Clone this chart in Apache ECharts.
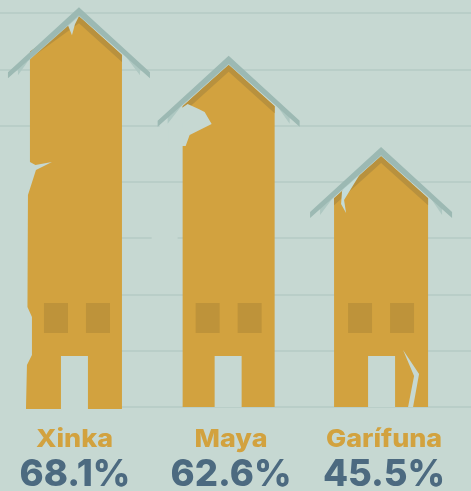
<!DOCTYPE html>
<html><head><meta charset="utf-8">
<style>html,body{margin:0;padding:0;background:#c6d8d2}#c{width:471px;height:491px}</style>
<script src="https://cdn.jsdelivr.net/npm/echarts@6/dist/echarts.min.js"></script>
</head><body><div id="c"></div>
<script>
const categories = ['Xinka', 'Maya', 'Garífuna'];
const percentLabels = ['68.1%', '62.6%', '45.5%'];
const houseHeights = [71.0, 62.4, 46.2];
const housePositions = [0.018, 1.0, 2.0];
const yTicks = [0, 10, 20, 30, 40, 50, 60, 70];

const BG = '#c6d8d2', YEL = '#d2a23f', WIN = '#be933a', BAND = '#b8913e', TXT = '#4c6a80';

// Shape details for each house, in pixels relative to the house's roof peak (p) or foot (f)
const details = [
  { l: -49, r: 43, drop: 2, spread: -53, lSlope: 0.72, door: [-18, 9], win: -2, labelDx: -4.5, valueDx: -4,
    cuts: [
      { f: [[-60,-250],[-49,-245],[-43.5,-242],[-27,-245],[-43,-237],[-51,-212],[-51.5,-100],[-47,-90],[-47,-52],[-52,-42],[-53,2],[-80,2],[-80,-250]] },
      { p: [[-11,18],[-7,28],[-4,17],[0,9],[-6,11]] }
    ] },
  { l: -46, r: 46, drop: 0, spread: -46, lSlope: 0.9, door: [-14, 13], win: 0, labelDx: 2.4, valueDx: 2.4,
    cuts: [
      { f: [[-46,-261],[-43,-261],[-39,-272],[-17,-283],[-24,-295],[-30,-298],[-41,-303],[-60,-290],[-60,-261]] },
      { f: [[-77,-172],[-51,-172],[-51,-166],[-77,-166]] },
      { f: [[-69,-284],[-46,-284],[-46,-279],[-69,-279]] }
    ] },
  { l: -47, r: 47, drop: 0, spread: -47, lSlope: 0.9, door: [-13, 14], win: 0, labelDx: 3, valueDx: 3,
    cuts: [
      { p: [[-39,44],[-40,57],[-35,66],[-37,53],[-21,27],[-27,24]], light: true },
      { f: [[22,-57],[38,-33],[32,0],[27,0],[33,-31]] }
    ] }
];

function renderHouse(params, api) {
  const i = params.dataIndex;
  const d = details[i];
  const peak = api.coord([api.value(0), api.value(1)]);
  const foot = api.coord([api.value(0), 0]);
  const cx = peak[0], py = peak[1], fy = foot[1];
  const P = (x, y) => [cx + x, py + y];
  const F = (x, y) => [cx + x, fy + y];
  const poly = (points, fill) => ({ type: 'polygon', shape: { points }, style: { fill } });
  const slope = 0.9;
  const edge = x => 9 + Math.abs(x) * (x < 0 ? d.lSlope : slope);
  const kids = [];

  // body
  kids.push(poly([F(d.spread, d.drop), F(d.spread, -245), F(d.l, -245), P(d.l, edge(d.l)), P(0, 9), P(d.r, edge(d.r)), F(d.r, d.drop)], YEL));
  // windows
  [[-33, -9], [9, 33]].forEach(w => kids.push(poly([
    F(w[0] + d.win, -104), F(w[1] + d.win, -104), F(w[1] + d.win, -74), F(w[0] + d.win, -74)], WIN)));
  // door
  kids.push(poly([F(d.door[0], -51), F(d.door[1], -51), F(d.door[1], d.drop), F(d.door[0], d.drop)], BG));
  // dark eave band, on the body only
  kids.push(poly([P(d.l, edge(d.l)), P(0, 9), P(d.r, edge(d.r)), P(d.r, edge(d.r) + 7), P(0, 16), P(d.l, edge(d.l) + 7)], BAND));
  // weathering cuts
  d.cuts.forEach(c => {
    const pts = c.f ? c.f.map(q => F(q[0], q[1])) : c.p.map(q => P(q[0], q[1]));
    kids.push(poly(pts, c.light ? '#c4dcd8' : BG));
  });
  // inner roof chevron
  kids.push(poly([P(-61, 60), P(0, 6), P(61, 60), P(61, 68), P(d.r + 2, edge(d.r) - 1), P(0, 9), P(d.l - 2, 9 + (2 - d.l) * slope - 1), P(-61, 68)], '#aec8c2'));
  // outer roof chevron
  kids.push(poly([P(-71, 65), P(0, 0), P(71, 65), P(71, 71), P(0, 8), P(-71, 71)], '#9cb9b3'));
  // labels
  kids.push({ type: 'text', x: cx + d.labelDx, y: fy + 32.5, scaleX: 1.1, scaleY: 1, style: { x: 0, y: 0, text: categories[i], fill: YEL,
    font: '800 24.5px Inter', textAlign: 'center', textVerticalAlign: 'middle' } });
  kids.push({ type: 'text', x: cx + d.valueDx, y: fy + 68.5, style: { x: 0, y: 0, text: percentLabels[i], fill: TXT,
    font: '800 36.5px Inter', textAlign: 'center', textVerticalAlign: 'middle' } });
  return { type: 'group', children: kids };
}

const chart = echarts.init(document.getElementById('c'), null, { renderer: 'canvas' });
chart.setOption({
  animation: false,
  backgroundColor: BG,
  grid: { left: 0, top: 13, width: 471, height: 394 },
  xAxis: { type: 'value', min: -0.5, max: 2.59, show: false },
  yAxis: { type: 'value', min: yTicks[0], max: yTicks[yTicks.length - 1], interval: 10,
    axisLabel: { show: false }, axisLine: { show: false }, axisTick: { show: false },
    splitLine: { show: true, lineStyle: { color: '#b9cec8', width: 2 } } },
  series: [{
    type: 'custom', clip: false, renderItem: renderHouse,
    encode: { x: 0, y: 1 },
    data: housePositions.map((x, i) => [x, houseHeights[i]])
  }]
});
</script></body></html>
